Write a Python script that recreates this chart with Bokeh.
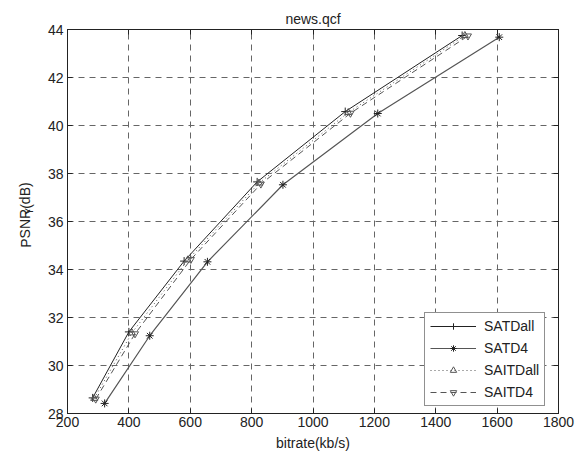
from bokeh.plotting import figure
from bokeh.layouts import row
from bokeh.models import LinearAxis, Legend, LegendItem, FixedTicker, Range1d
from bokeh.embed import file_html
from bokeh.resources import INLINE
from bokeh.core.properties import value

# ---- data ----
satd_all_x = [282, 400, 580, 818, 1105, 1486]
satd_all_y = [28.65, 31.40, 34.35, 37.65, 40.58, 43.75]

satd4_x = [321, 468, 656, 902, 1211, 1607]
satd4_y = [28.42, 31.24, 34.32, 37.53, 40.50, 43.68]

saitd_all_x = [287, 410, 592, 824, 1115, 1495]
saitd_all_y = [28.63, 31.36, 34.40, 37.60, 40.54, 43.75]

saitd4_x = [292, 420, 602, 830, 1122, 1505]
saitd4_y = [28.60, 31.32, 34.42, 37.56, 40.51, 43.73]

x_ticks = [200, 400, 600, 800, 1000, 1200, 1400, 1600, 1800]
y_ticks = [28, 30, 32, 34, 36, 38, 40, 42, 44]

FONT = "Liberation Sans"
INK = "#222222"
W, H = 580, 454
LW = 42  # width of the strip holding the y-axis title

# ---- strip with the y-axis title PSNR_Y(dB) ----
lp = figure(width=LW, height=H, output_backend="svg", toolbar_location=None,
            x_range=Range1d(0, LW), y_range=Range1d(0, H),
            x_axis_type=None, y_axis_type=None,
            min_border=0, min_border_left=0, min_border_right=0,
            min_border_top=0, min_border_bottom=0)
lp.outline_line_color = None
lp.grid.visible = False
txt = dict(angle=1.5708, text_font=value(FONT), text_color=INK,
           text_align="left", text_baseline="middle")
lp.text(x=[25], y=[196], text=["PSNR"], text_font_size="14px", **txt)
lp.text(x=[29], y=[235], text=["Y"], text_font_size="10px", **txt)
lp.text(x=[25], y=[242], text=["(dB)"], text_font_size="14px", **txt)

# ---- main plot ----
p = figure(width=W - LW, height=H, output_backend="svg", toolbar_location=None,
           x_range=Range1d(200, 1800), y_range=Range1d(28, 44),
           min_border_left=67 - LW, min_border_right=22, min_border_top=29,
           min_border_bottom=41)

p.title.text = "news.qcf"
p.title.align = "center"
p.title.text_font = FONT
p.title.text_font_size = "14px"
p.title.text_font_style = "normal"
p.title.text_color = INK
p.title.standoff = 6
p.title.offset = 0

p.outline_line_color = INK
p.outline_line_width = 1

for ax in (p.xaxis[0], p.yaxis[0]):
    ax.major_label_text_font = FONT
    ax.major_label_text_font_size = "14px"
    ax.major_label_text_color = INK
    ax.axis_line_color = INK
    ax.major_tick_line_color = INK
    ax.major_tick_in = 5
    ax.major_tick_out = 0
    ax.minor_tick_line_color = None
p.yaxis[0].major_label_standoff = 4
p.xaxis[0].major_label_standoff = 3

p.xaxis[0].ticker = FixedTicker(ticks=x_ticks)
p.yaxis[0].ticker = FixedTicker(ticks=y_ticks)
p.xaxis[0].axis_label = "bitrate(kb/s)"
p.xaxis[0].axis_label_text_font = FONT
p.xaxis[0].axis_label_text_font_size = "14px"
p.xaxis[0].axis_label_text_font_style = "normal"
p.xaxis[0].axis_label_text_color = INK
p.xaxis[0].axis_label_standoff = 5

# top & right axes (inward ticks only, labels not drawn)
for loc, ticks in (("right", y_ticks), ("above", x_ticks)):
    ax = LinearAxis(ticker=FixedTicker(ticks=ticks))
    ax.major_label_text_font_size = "0px"
    ax.major_label_text_color = None
    ax.major_label_standoff = 0
    ax.major_tick_in = 5
    ax.major_tick_out = 0
    ax.minor_tick_line_color = None
    ax.axis_line_color = INK
    ax.major_tick_line_color = INK
    p.add_layout(ax, loc)

for g in (p.xgrid[0], p.ygrid[0]):
    g.grid_line_color = "#666666"
    g.grid_line_dash = "6 5"
    g.grid_line_width = 1
p.xgrid[0].ticker = FixedTicker(ticks=x_ticks)
p.ygrid[0].ticker = FixedTicker(ticks=y_ticks)

# series
r1 = p.line(satd_all_x, satd_all_y, line_color=INK, line_width=1)
m1 = p.scatter(satd_all_x, satd_all_y, marker="cross", size=8, line_color=INK)
r2 = p.line(satd4_x, satd4_y, line_color="#555555", line_width=1.2)
m2 = p.scatter(satd4_x, satd4_y, marker="asterisk", size=8, line_color=INK)
r3 = p.line(saitd_all_x, saitd_all_y, line_color="#555555", line_width=1, line_dash="1 3")
m3 = p.scatter(saitd_all_x, saitd_all_y, marker="triangle", size=7, line_color="#555555",
               fill_color=None)
r4 = p.line(saitd4_x, saitd4_y, line_color="#555555", line_width=1, line_dash="6 4")
m4 = p.scatter(saitd4_x, saitd4_y, marker="inverted_triangle", size=7, line_color="#555555",
               fill_color=None)

legend = Legend(items=[
    LegendItem(label="SATDall", renderers=[r1, m1]),
    LegendItem(label="SATD4", renderers=[r2, m2]),
    LegendItem(label="SAITDall", renderers=[r3, m3]),
    LegendItem(label="SAITD4", renderers=[r4, m4]),
], location=(357, 7))
legend.label_text_font = FONT
legend.label_text_font_size = "14px"
legend.label_text_color = INK
legend.glyph_width = 46
legend.glyph_height = 16
legend.label_height = 16
legend.spacing = 6
legend.padding = 5
legend.margin = 0
legend.label_standoff = 8
legend.border_line_color = INK
legend.border_line_width = 1
legend.background_fill_color = "white"
legend.background_fill_alpha = 1
p.add_layout(legend, "center")

layout = row(lp, p)
open("out.html", "w").write(file_html(layout, INLINE))
